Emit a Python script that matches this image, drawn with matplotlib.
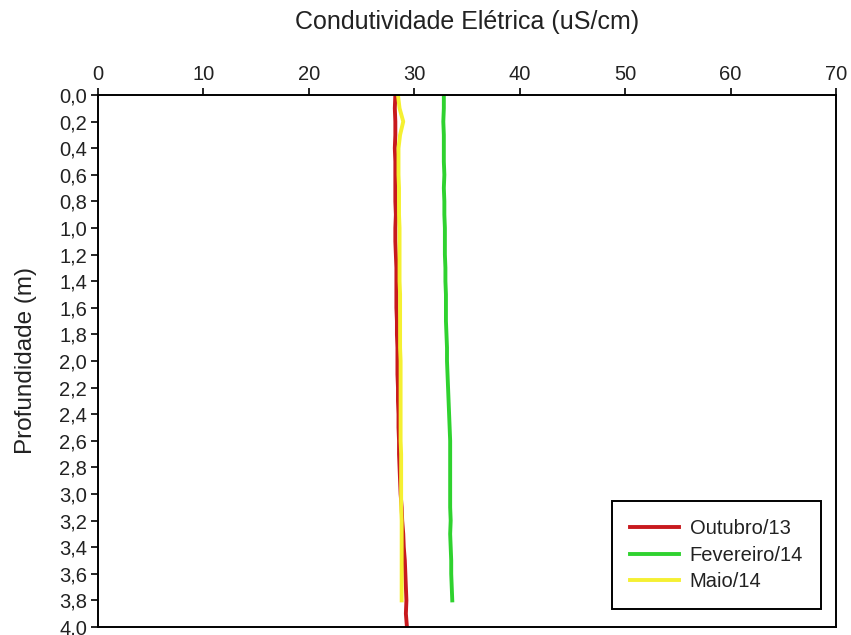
import matplotlib
matplotlib.use("Agg")
import matplotlib.pyplot as plt
from matplotlib.ticker import FuncFormatter

plt.rcParams['font.family'] = ['Liberation Sans', 'DejaVu Sans']

depth = [0.0, 0.1, 0.2, 0.3, 0.4, 0.5, 0.6, 0.7, 0.8, 0.9, 1.0, 1.1, 1.2, 1.3, 1.4, 1.5,
         1.6, 1.7, 1.8, 1.9, 2.0, 2.1, 2.2, 2.3, 2.4, 2.5, 2.6, 2.7, 2.8, 2.9, 3.0,
         3.1, 3.2, 3.3, 3.4, 3.5, 3.6, 3.7, 3.8, 3.9, 4.0]
outubro13 = [28.2, 28.15, 28.2, 28.2, 28.15, 28.2, 28.2, 28.2, 28.2, 28.25, 28.2, 28.2, 28.25, 28.3, 28.3, 28.3,
             28.3, 28.35, 28.35, 28.4, 28.4, 28.4, 28.45, 28.45, 28.5, 28.5, 28.55, 28.55, 28.6, 28.65, 28.7,
             28.8, 28.85, 28.95, 29.0, 29.1, 29.15, 29.2, 29.25, 29.2, 29.3]
fevereiro14 = [32.8, 32.8, 32.75, 32.8, 32.8, 32.8, 32.85, 32.8, 32.85, 32.85, 32.9, 32.9, 32.9, 32.95, 32.95, 33.0,
               33.0, 33.0, 33.05, 33.1, 33.1, 33.15, 33.2, 33.25, 33.3, 33.35, 33.4, 33.4, 33.4, 33.4, 33.4,
               33.4, 33.45, 33.4, 33.45, 33.5, 33.5, 33.55, 33.6]
maio14 = [28.45, 28.6, 28.95, 28.65, 28.5, 28.5, 28.5, 28.55, 28.55, 28.55, 28.6, 28.6, 28.6, 28.6, 28.6, 28.65,
          28.65, 28.65, 28.65, 28.65, 28.7, 28.7, 28.7, 28.7, 28.7, 28.7, 28.7, 28.75, 28.75, 28.75, 28.75,
          28.75, 28.8, 28.8, 28.8, 28.8, 28.8, 28.8, 28.8]

series = [("Outubro/13", outubro13, "#c8191e"),
          ("Fevereiro/14", fevereiro14, "#2fd22f"),
          ("Maio/14", maio14, "#f5f032")]

fig = plt.figure(figsize=(8.51, 6.35), dpi=100)
ax = fig.add_axes([0.1152, 0.0126, 0.8672, 0.8378])

for name, vals, col in series:
    ax.plot(vals, depth[:len(vals)], color=col, lw=2.8, label=name)

ax.set_xlim(0, 70)
ax.set_ylim(4.0, 0.0)
ax.set_xticks(range(0, 71, 10))
ax.set_yticks([i / 5 for i in range(21)])
ax.yaxis.set_major_formatter(FuncFormatter(lambda v, p: f"{v:.1f}".replace(".", ",")))
ax.xaxis.set_ticks_position('top')
ax.xaxis.set_label_position('top')
ax.tick_params(axis='both', labelsize=14.5, length=5, width=1.2, color='black',
               direction='out', pad=3, labelcolor='#222222')
ax.set_xlabel("Condutividade Elétrica (uS/cm)", fontsize=18, labelpad=26, color='#222222')
ax.set_ylabel("Profundidade (m)", fontsize=17.5, labelpad=16, color='#222222')
for s in ax.spines.values():
    s.set_linewidth(1.4)

leg = ax.legend(loc='lower right', bbox_to_anchor=(0.98, 0.033), fontsize=14.5, fancybox=False,
                edgecolor='black', framealpha=1, handlelength=2.4, handletextpad=0.55,
                borderpad=0.9, labelspacing=0.38, borderaxespad=0)
leg.get_frame().set_linewidth(1.4)
for t in leg.get_texts():
    t.set_color('#222222')

fig.savefig("out.png", dpi=100)
